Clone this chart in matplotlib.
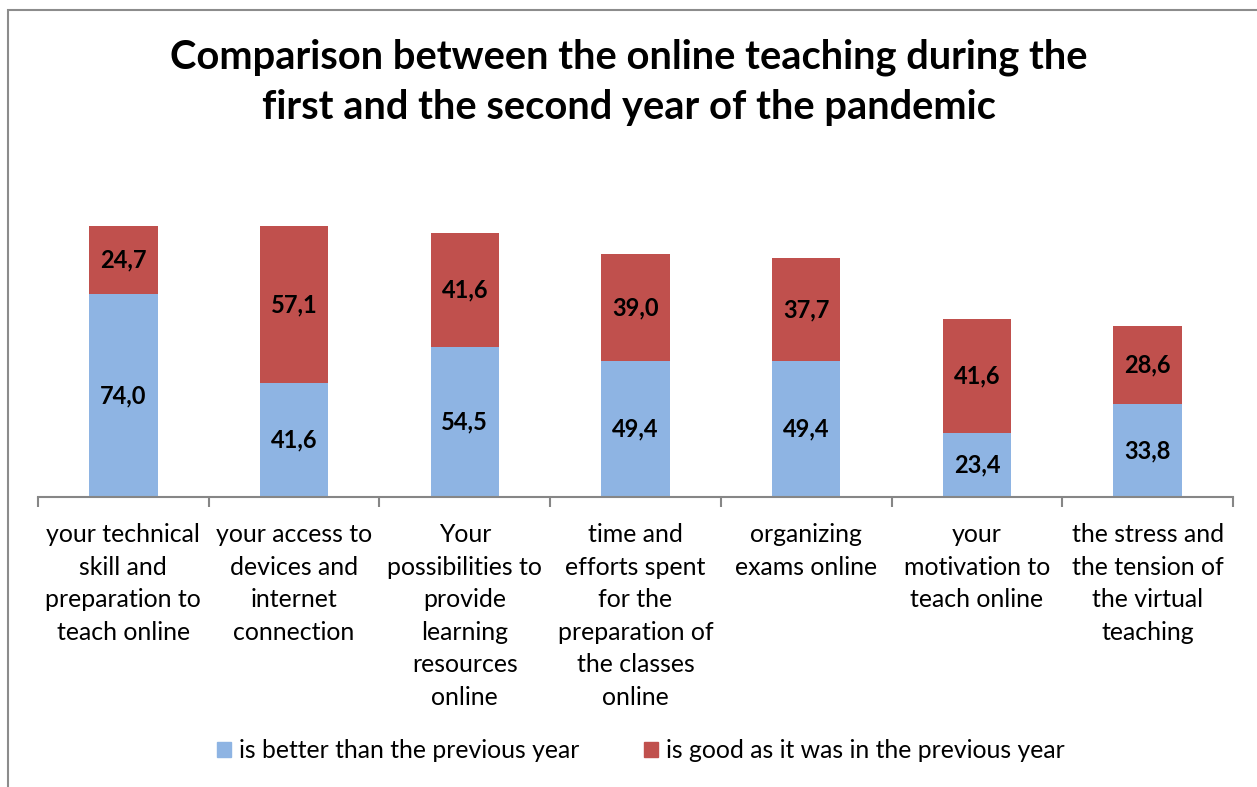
import matplotlib.pyplot as plt
from matplotlib.patches import Rectangle, Patch
import numpy as np

categories = [
    'your technical\nskill and\npreparation to\nteach online',
    'your access to\ndevices and\ninternet\nconnection',
    'Your\npossibilities to\nprovide\nlearning\nresources\nonline',
    'time and\nefforts spent\nfor the\npreparation of\nthe classes\nonline',
    'organizing\nexams online',
    'your\nmotivation to\nteach online',
    'the stress and\nthe tension of\nthe virtual\nteaching',
]
better = [74.0, 41.6, 54.5, 49.4, 49.4, 23.4, 33.8]
same = [24.7, 57.1, 41.6, 39.0, 37.7, 41.6, 28.6]
series_names = ['is better than the previous year',
                'is good as it was in the previous year']

blue = '#8EB4E3'
red = '#C0504D'
grey = '#868686'

plt.rcParams['font.family'] = ['Lato', 'DejaVu Sans']

fig = plt.figure(figsize=(12.57, 7.87), dpi=100)
fig.patches.append(Rectangle((8 / 1257, -0.1), 1.2, 1 - 9.5 / 787 + 0.1,
                             transform=fig.transFigure, fill=False,
                             edgecolor='#8c8c8c', linewidth=1.5))

ax = fig.add_axes([38 / 1257, 1 - 497 / 787, (1233 - 38) / 1257, 274.5 / 787])
x = np.arange(len(categories))
ax.bar(x, better, width=0.4, color=blue, label=series_names[0])
ax.bar(x, same, width=0.4, bottom=better, color=red, label=series_names[1])

for i in range(len(x)):
    ax.text(x[i], better[i] / 2, ('%.1f' % better[i]).replace('.', ','),
            ha='center', va='center', fontsize=17, fontweight='bold')
    ax.text(x[i], better[i] + same[i] / 2, ('%.1f' % same[i]).replace('.', ','),
            ha='center', va='center', fontsize=17, fontweight='bold')

ax.set_xlim(-0.5, len(x) - 0.5)
ax.set_ylim(0, 100)
ax.set_yticks([])
for s in ['top', 'right', 'left']:
    ax.spines[s].set_visible(False)
ax.spines['bottom'].set_color(grey)
ax.spines['bottom'].set_linewidth(1.5)

ax.set_xticks(np.arange(len(x) + 1) - 0.5, minor=False)
ax.set_xticklabels([])
ax.tick_params(axis='x', which='major', direction='out', length=7,
               color=grey, width=1.5)
for i, c in enumerate(categories):
    ax.text(x[i], -9.5, c, ha='center', va='top', fontsize=17.9,
            linespacing=1.5)

fig.text(0.5, 1 - 82.5 / 787, 'Comparison between the online teaching during the\n'
         'first and the second year of the pandemic',
         ha='center', va='center', fontsize=28.7, fontweight='bold',
         linespacing=1.45)

handles = [Patch(color=blue), Patch(color=red)]
fig.legend(handles, series_names, loc='center', ncol=2,
           bbox_to_anchor=(0.51, 1 - 751 / 787), frameon=False,
           fontsize=17.8, handlelength=0.55, handleheight=0.55,
           handletextpad=0.35, columnspacing=2.6)

fig.savefig('out.png', dpi=100)
